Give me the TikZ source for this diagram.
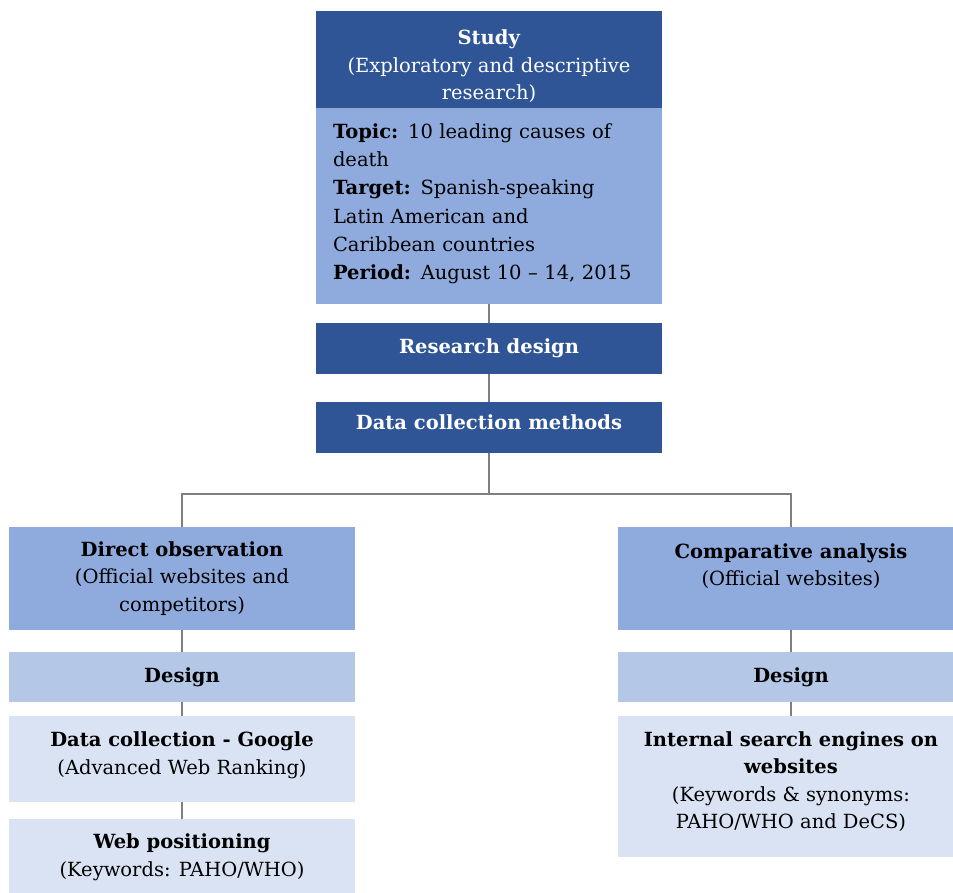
\documentclass[tikz,border=0pt]{standalone}
\usepackage{fontspec}
\setmainfont{DejaVu Serif}
\usetikzlibrary{backgrounds}
\definecolor{darkb}{HTML}{2F5597}
\definecolor{midb}{HTML}{8FAADC}
\definecolor{desb}{HTML}{B4C7E7}
\definecolor{lightb}{HTML}{DAE3F3}
\definecolor{conn}{HTML}{7F7F7F}
\newcommand{\deepstrut}[1]{\rule[-#1]{0pt}{#1}}
\newcommand{\tallstrut}[1]{\rule{0pt}{#1}}
\tikzset{
  box/.style={rectangle, inner sep=0pt, minimum width=346pt, align=center,
    font=\fontsize{19.5}{27.5}\selectfont},
  darkbox/.style={box, fill=darkb, text=white},
  midbox/.style={box, fill=midb, text=black},
  desbox/.style={box, fill=desb, text=black},
  lightbox/.style={box, fill=lightb, text=black},
  link/.style={draw=conn, line width=2.6pt}
}
\begin{document}
\begin{tikzpicture}[x=1pt,y=-1pt]
\clip (0,0) rectangle (953,892);
\useasboundingbox (0,0) rectangle (953,892);
\node[darkbox, minimum height=97pt] (head) at (489,59.5)
  {\tallstrut{29pt}\textbf{Study}\\(Exploratory and descriptive\\research)};
\node[midbox, minimum height=196pt, text width=312pt, align=left,
  font=\fontsize{19.5}{28.2}\selectfont] (body) at (489,206)
  {\textbf{Topic:} 10 leading causes of\\death\\\textbf{Target:} Spanish-speaking\\Latin American and\\Caribbean countries\\\textbf{Period:} August 10 – 14, 2015\deepstrut{9pt}};
\node[darkbox, minimum height=51pt] (rd) at (489,348.5) {\textbf{Research design}};
\node[darkbox, minimum height=51pt] (dcm) at (489,427.5) {\textbf{Data collection methods}\deepstrut{11pt}};
\coordinate (split) at (489,494);
\node[midbox, minimum height=103pt] (dobs) at (182,578.5)
  {\textbf{Direct observation}\\(Official websites and\\competitors)};
\node[desbox, minimum height=50pt] (des1) at (182,677) {\textbf{Design}};
\node[lightbox, minimum height=86pt] (dcg) at (182,759)
  {\textbf{Data collection - Google}\\(Advanced Web Ranking)\deepstrut{12pt}};
\node[lightbox, minimum height=76pt] (web) at (182,857)
  {\textbf{Web positioning}\\(Keywords: PAHO/WHO)};
\node[midbox, minimum height=103pt] (comp) at (791,578.5)
  {\textbf{Comparative analysis}\\(Official websites)\\\mbox{}};
\node[desbox, minimum height=50pt] (des2) at (791,677) {\textbf{Design}};
\node[lightbox, minimum height=141pt] (ise) at (791,786.5)
  {\textbf{Internal search engines on}\\\textbf{websites}\\(Keywords \& synonyms:\\PAHO/WHO and DeCS)\deepstrut{13pt}};
\begin{scope}[on background layer]
\draw[link] (body.south) -- (rd.north);
\draw[link] (rd.south) -- (dcm.north);
\draw[link] (dcm.south) -- (split);
\draw[link] (split) -| (dobs.north);
\draw[link] (split) -| (comp.north);
\draw[link] (dobs.south) -- (des1.north);
\draw[link] (des1.south) -- (dcg.north);
\draw[link] (dcg.south) -- (web.north);
\draw[link] (comp.south) -- (des2.north);
\draw[link] (des2.south) -- (ise.north);
\end{scope}
\end{tikzpicture}
\end{document}
